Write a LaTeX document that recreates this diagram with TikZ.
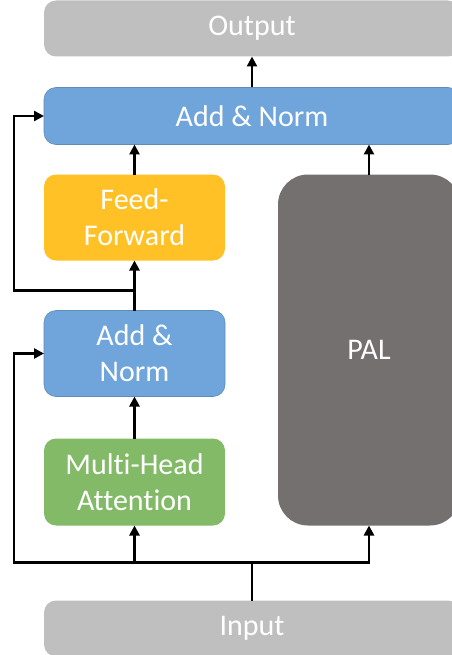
\documentclass[tikz,border=0pt]{standalone}
\usepackage{fontspec}
\setmainfont{Carlito}[Ligatures=NoCommon]
\usepackage{xcolor}
\usetikzlibrary{arrows.meta,positioning,calc}

\definecolor{ioGray}{HTML}{BFBFBF}
\definecolor{normBlue}{HTML}{6FA5DA}
\definecolor{ffOrange}{HTML}{FFC125}
\definecolor{attGreen}{HTML}{82BA67}
\definecolor{palGray}{HTML}{757070}

\begin{document}
\begin{tikzpicture}[
    block/.style={rectangle, text=white, align=center, rounded corners=12pt, inner sep=0pt, outer sep=0pt,
        font=\fontsize{30}{36}\selectfont},
    iobox/.style={block, fill=ioGray, minimum width=416pt, minimum height=56pt},
    normbox/.style={block, fill=normBlue, draw=normBlue!85!black, line width=0.6pt},
    ffbox/.style={block, fill=ffOrange, minimum width=181pt, minimum height=86pt},
    attbox/.style={block, fill=attGreen, minimum width=181pt, minimum height=87pt},
    palbox/.style={block, fill=palGray, rounded corners=30pt, minimum width=182pt, minimum height=351pt},
    line/.style={line width=2.6pt},
    arrow/.style={line, -{Triangle[length=10pt,width=10pt]}}
]
\useasboundingbox (0,0) rectangle (451pt,-655pt);

% Nodes
\node[iobox, anchor=north west] (output) at (44pt,-0.5pt) {Output};
\node[normbox, minimum width=416pt, minimum height=57pt, below=31pt of output] (addnorm2) {Add \& Norm};
\node[ffbox, below=30pt of addnorm2.south west, anchor=north west] (ff) {Feed-\\Forward};
\node[palbox, below=30pt of addnorm2.south east, anchor=north east] (pal) {PAL};
\node[normbox, minimum width=181pt, minimum height=86pt, below=50pt of ff] (addnorm1) {Add \&\\Norm};
\node[attbox, below=42pt of addnorm1] (mha) {Multi-Head\\Attention};
\node[iobox, below=75pt of mha.south west, anchor=north west] (input) {Input};

\coordinate (split) at ($(input.north)+(0,38pt)$);
\coordinate (railA) at ($(split)-(238pt,0)$);
\coordinate (tap) at ($(addnorm1.north)+(0,20pt)$);

% Arrows
\draw[line] (input.north) -- (split);
\draw[arrow] (split) -| (mha.south);
\draw[arrow] (split) -| (pal.south);
\draw[arrow] (split) -- (railA) |- (addnorm1.west);
\draw[arrow] (mha) -- (addnorm1);
\draw[arrow] (addnorm1) -- (ff);
\draw[arrow] (tap) -- (tap -| railA) |- (addnorm2.west);
\draw[arrow] (ff.north) -- (ff.north |- addnorm2.south);
\draw[arrow] (pal.north) -- (pal.north |- addnorm2.south);
\draw[arrow] (addnorm2) -- (output);

\end{tikzpicture}
\end{document}
